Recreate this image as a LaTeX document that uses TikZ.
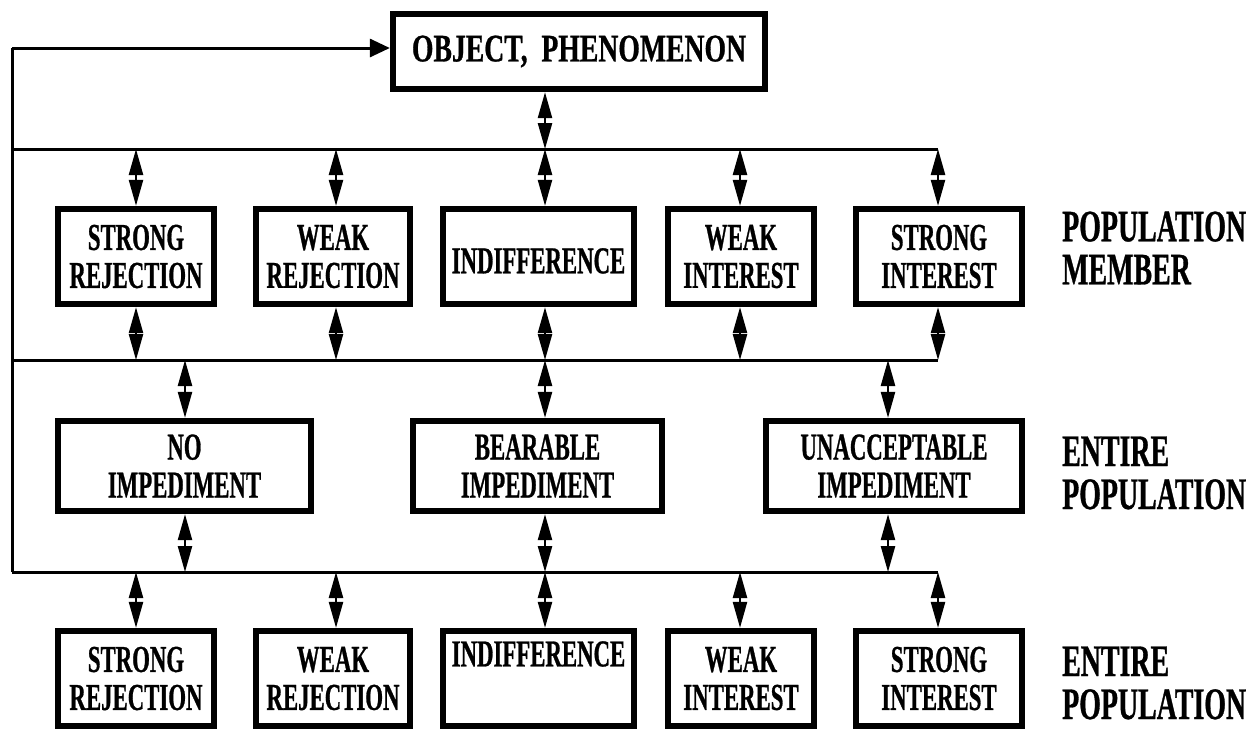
\documentclass[tikz,border=0pt]{standalone}
\usepackage{fontspec}
\setmainfont{Liberation Serif}
\newfontfamily\bxf{Liberation Serif}[FakeStretch=0.6,FakeBold=0.7]
\newfontfamily\tbf{Liberation Serif}[FakeStretch=0.71,FakeBold=0.7]
\newfontfamily\lbf{Liberation Serif}[FakeStretch=0.62,FakeBold=0.7]
\usetikzlibrary{arrows.meta}
\begin{document}
\begin{tikzpicture}[x=1pt,y=-1pt,
  box/.style={draw, line width=5.8pt, inner sep=0pt, align=center,
    font=\bxf\bfseries\fontsize{38}{38}\selectfont},
  rowA/.style={box, minimum height=95.5pt, execute at begin node={\rule{0pt}{34pt}}},
  rowB/.style={box, minimum height=90.5pt, execute at begin node={\rule{0pt}{40pt}}},
  topbox/.style={draw, line width=5.8pt, inner sep=0pt, align=center,
    minimum width=372.5pt, minimum height=75.5pt,
    font=\tbf\bfseries\fontsize{39}{39}\selectfont},
  lbl/.style={anchor=west, inner sep=0pt, align=left,
    font=\lbf\bfseries\fontsize{45}{43}\selectfont},
  bus/.style={line width=3pt},
  dbl/.style={line width=2.4pt,
    {Triangle[length=26pt,width=14pt]}-{Triangle[length=26pt,width=14pt]}},
  fb/.style={line width=3pt, -{Triangle[length=20pt,width=18pt]}}
]
\useasboundingbox (0,0) rectangle (1258,732);

% top box
\node[topbox] (top) at (579,51.5) {OBJECT,\ \ PHENOMENON};

% row 1
\node[rowA, minimum width=156.5pt] (sr1) at (136,256.5) {STRONG\\REJECTION};
\node[rowA, minimum width=154.5pt] (wr1) at (333,256.5) {WEAK\\REJECTION};
\node[rowA, minimum width=191.5pt] (in1) at (538.5,256.5) {INDIFFERENCE};
\node[rowA, minimum width=146.5pt] (wi1) at (741,256.5) {WEAK\\INTEREST};
\node[rowA, minimum width=166.5pt] (si1) at (939,256.5) {STRONG\\INTEREST};

% row 2
\node[rowB, minimum width=253.5pt] (ni) at (184.5,466) {NO\\IMPEDIMENT};
\node[rowB, minimum width=249.5pt] (bi) at (537.5,466) {BEARABLE\\IMPEDIMENT};
\node[rowB, minimum width=256.5pt] (ui) at (894,466) {UNACCEPTABLE\\IMPEDIMENT};

% row 3
\node[rowA, minimum width=156.5pt] (sr3) at (136,678.5) {STRONG\\REJECTION};
\node[rowA, minimum width=154.5pt] (wr3) at (333,678.5) {WEAK\\REJECTION};
\node[rowA, minimum width=191.5pt] (in3) at (538.5,678.5) {INDIFFERENCE\\\strut};
\node[rowA, minimum width=146.5pt] (wi3) at (741,678.5) {WEAK\\INTEREST};
\node[rowA, minimum width=166.5pt] (si3) at (939,678.5) {STRONG\\INTEREST};

% right labels
\node[lbl] (l1) at (1062,248) {POPULATION\\MEMBER};
\node[lbl] (l2) at (1062,473) {ENTIRE\\POPULATION};
\node[lbl] (l3) at (1062,683) {ENTIRE\\POPULATION};

% bus coordinates
\coordinate (F0) at (12,48);
\coordinate (B1L) at (12,149);  \coordinate (B1R) at (938,149);
\coordinate (B2L) at (12,360);  \coordinate (B2R) at (938,360);
\coordinate (B3L) at (12,572);  \coordinate (B3R) at (938,572);

% feedback line and buses
\draw[bus] (B3L) -- (F0);
\draw[fb] (F0) -- (F0 -| top.west);
\draw[bus] (B1L) -- (B1R);
\draw[bus] (B2L) -- (B2R);
\draw[bus] (B3L) -- (B3R);

% top box to bus 1
\coordinate (t1) at (545,149);
\draw[dbl] (top.south -| t1) -- (t1);

% bus 1 to row 1, row 1 to bus 2
\foreach \xx/\nn in {136/sr1, 336/wr1, 545/in1, 740/wi1, 938/si1}{
  \coordinate (a\nn) at (\xx,149);
  \draw[dbl] (a\nn) -- (a\nn |- \nn.north);
  \coordinate (b\nn) at (\xx,360);
  \draw[dbl] (b\nn |- \nn.south) -- (b\nn);
}
% bus 2 to row 2 and row 2 to bus 3
\foreach \xx/\nn in {185/ni, 545/bi, 888/ui}{
  \coordinate (c\nn) at (\xx,360);
  \draw[dbl] (c\nn) -- (c\nn |- \nn.north);
  \coordinate (d\nn) at (\xx,572);
  \draw[dbl] (d\nn |- \nn.south) -- (d\nn);
}
% bus 3 to row 3
\foreach \xx/\nn in {136/sr3, 336/wr3, 545/in3, 740/wi3, 938/si3}{
  \coordinate (e\nn) at (\xx,572);
  \draw[dbl] (e\nn) -- (e\nn |- \nn.north);
}
\end{tikzpicture}
\end{document}
